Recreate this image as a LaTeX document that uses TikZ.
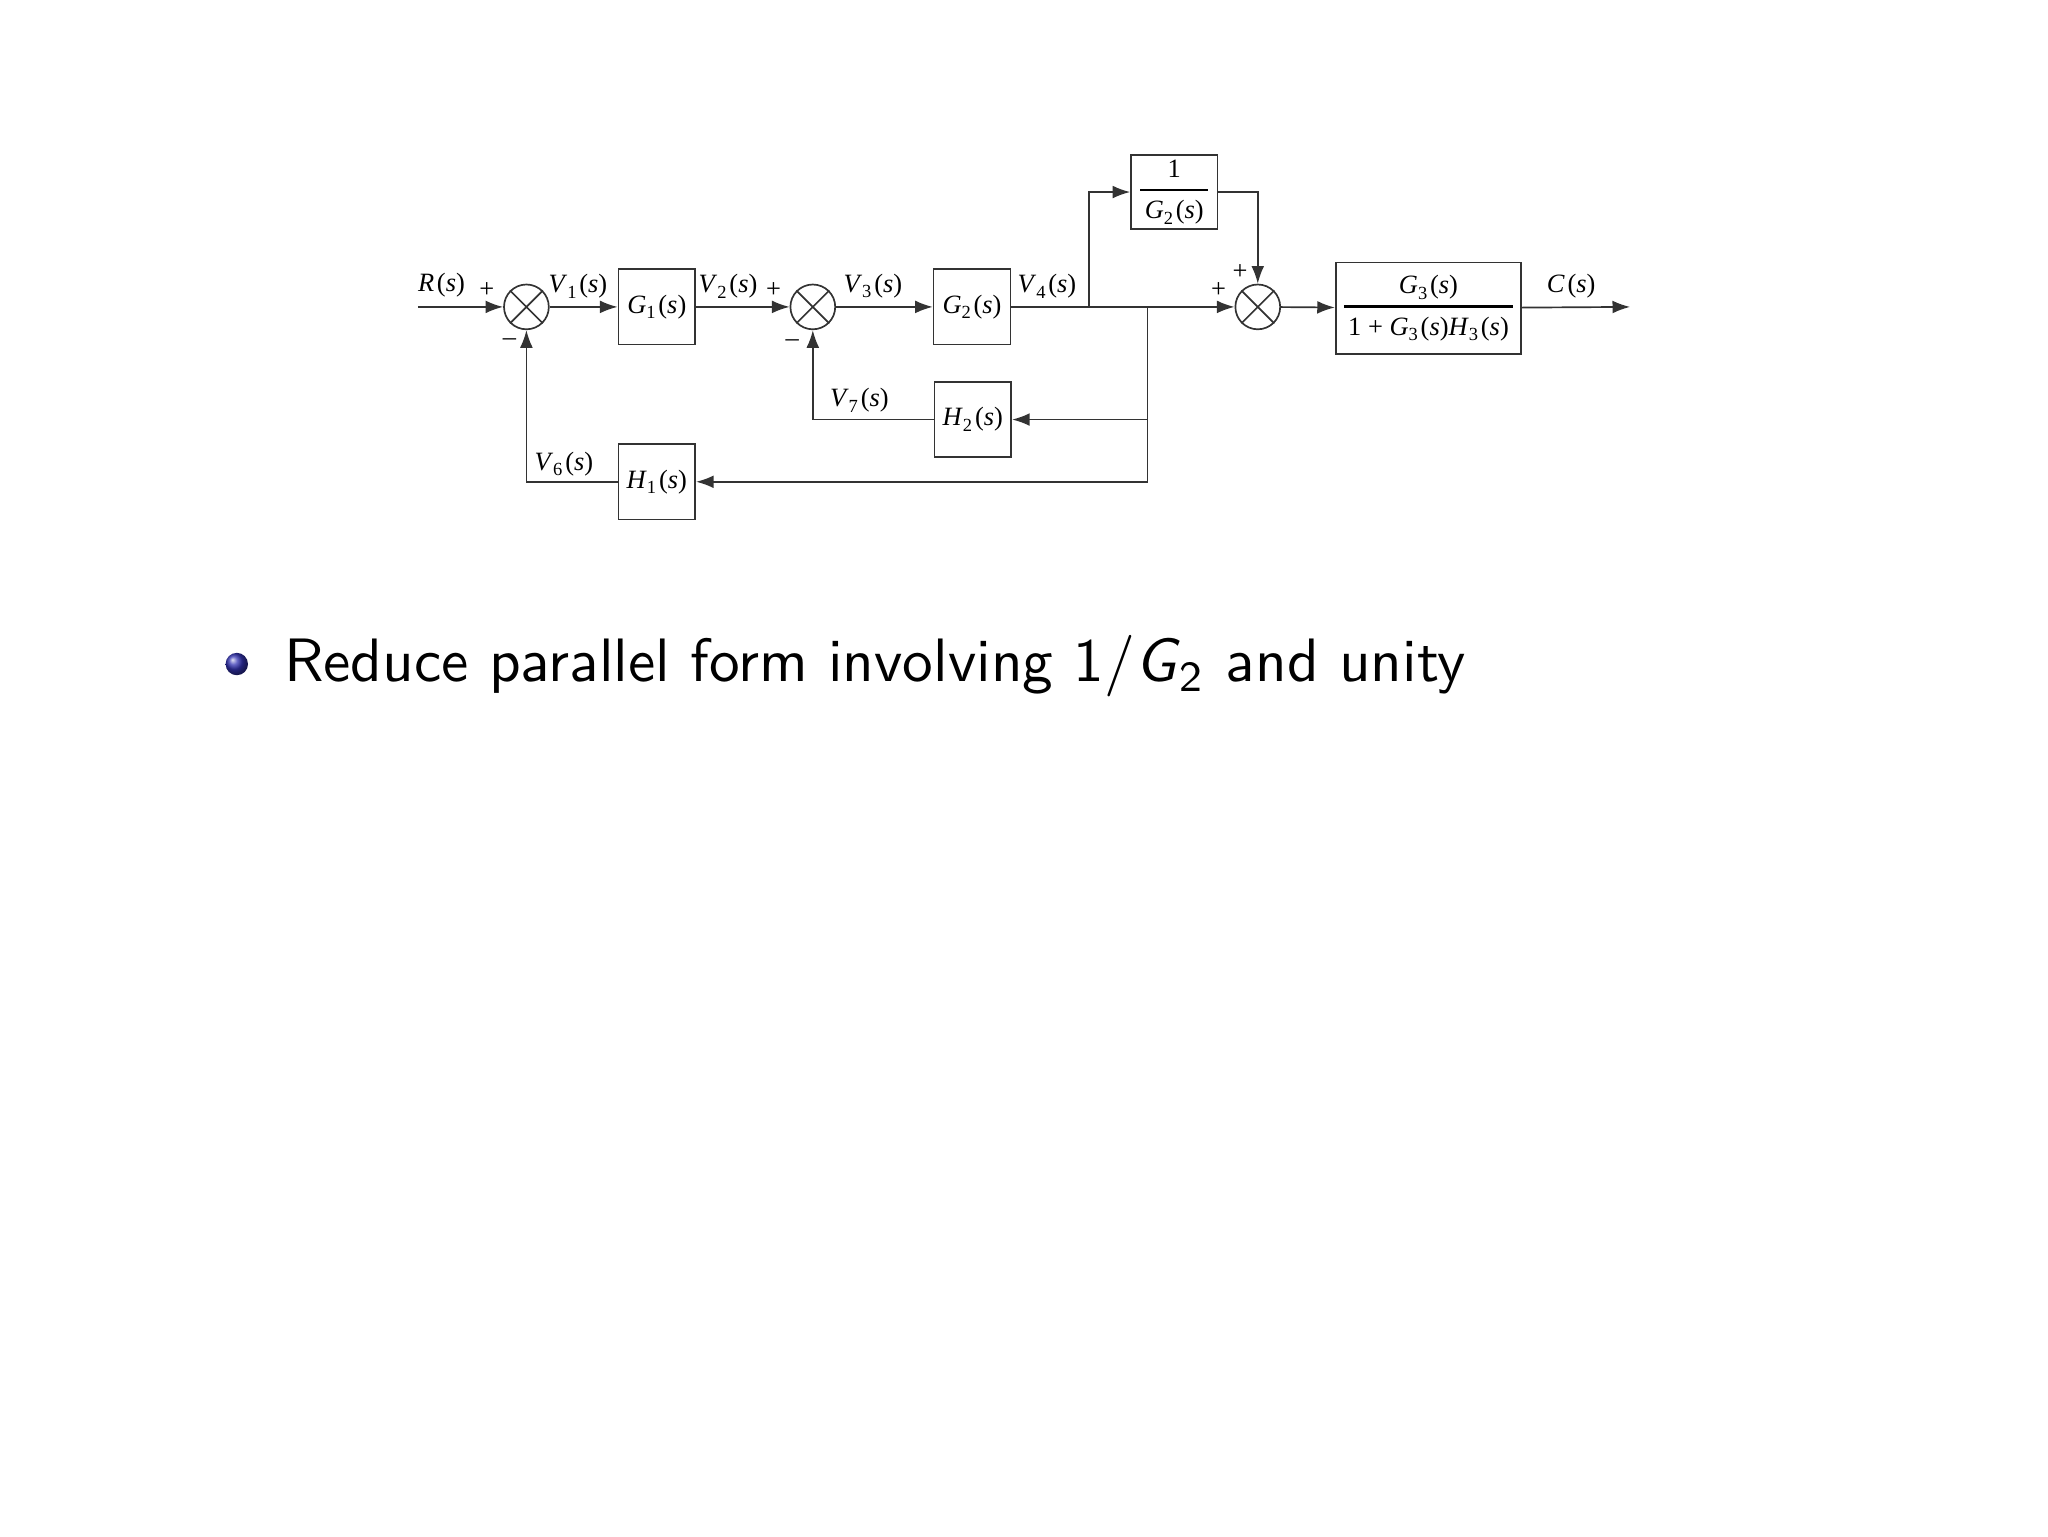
\documentclass[tikz,border=0pt]{standalone}
\usepackage{fontspec}
\setmainfont{Liberation Serif}
\usetikzlibrary{arrows.meta,positioning}
\definecolor{beamerblue}{rgb}{0.2,0.2,0.7}
\newcommand{\tfn}[2]{\textit{#1}\textsubscript{#2}(\textit{s})}
\newcommand{\blockfrac}[2]{$\frac{\mbox{#1}\rule[-1.7pt]{0pt}{0pt}}{\rule{0pt}{4.5pt}\mbox{\,#2\,}}$}
\begin{document}
\begin{tikzpicture} [font=\fontsize{4.7}{5.6}\selectfont, line width=0.3pt, draw=black!80,
    >={Latex[length=1.1mm,width=0.8mm]},
    block/.style={draw, minimum width=0.48cm, minimum height=0.47cm, inner sep=0.5pt},
    sumnode/.style={draw, circle, minimum size=0.28cm, inner sep=0pt},
    lab/.style={inner sep=0.5pt}]
    \useasboundingbox (0,0) rectangle (12.8,-9.6);
    % place nodes
    \coordinate (in) at (2.612,-1.918);
    \node [sumnode] (sum1) at (3.290,-1.918) {};
    \node [block] (G1) at (4.105,-1.918) {\tfn{G}{1}};
    \node [sumnode] (sum2) at (5.080,-1.918) {};
    \node [block] (G2) at (6.075,-1.918) {\tfn{G}{2}};
    \coordinate (split1) at (6.805,-1.918);
    \coordinate (split2) at (7.172,-1.918);
    \node [block, minimum width=0.54cm, minimum height=0.46cm, inner sep=0pt] (invG2) at (7.339,-1.200)
      {\blockfrac{1}{\tfn{G}{2}}};
    \node [sumnode] (sum3) at (7.861,-1.918) {};
    \node [block, minimum width=1.16cm, minimum height=0.57cm, inner sep=0pt] (G3) at (8.928,-1.926)
      {\blockfrac{\tfn{G}{3}}{1 + \tfn{G}{3}\tfn{H}{3}}};
    \coordinate (out) at (10.188,-1.918);
    \node [block] (H2) at (6.080,-2.622) {\tfn{H}{2}};
    \node [block] (H1) at (4.105,-3.011) {\tfn{H}{1}};
    % labels
    \node [lab] (Rlab) at (2.759,-1.785) {\tfn{R}{}};
    \node [lab] (plus1) at (3.043,-1.815) {+};
    \node [lab] (minus1) at (3.184,-2.139) {--};
    \node [lab] (V1lab) at (3.612,-1.788) {\tfn{V}{1}};
    \node [lab] (V2lab) at (4.550,-1.788) {\tfn{V}{2}};
    \node [lab] (plus2) at (4.835,-1.815) {+};
    \node [lab] (minus2) at (4.952,-2.143) {--};
    \node [lab] (V3lab) at (5.455,-1.788) {\tfn{V}{3}};
    \node [lab] (V4lab) at (6.543,-1.788) {\tfn{V}{4}};
    \node [lab] (plus3) at (7.616,-1.815) {+};
    \node [lab] (plus4) at (7.751,-1.700) {+};
    \node [lab] (Clab) at (9.820,-1.788) {\tfn{C}{}};
    \node [lab] (V7lab) at (5.371,-2.500) {\tfn{V}{7}};
    \node [lab] (V6lab) at (3.524,-2.900) {\tfn{V}{6}};
    % draw edges
    \foreach \s in {sum1,sum2,sum3}
      \draw (\s.north west) -- (\s.south east) (\s.north east) -- (\s.south west);
    \draw [->] (in) -- (sum1);
    \draw [->] (sum1) -- (G1);
    \draw [->] (G1) -- (sum2);
    \draw [->] (sum2) -- (G2);
    \draw [->] (G2) -- (sum3);
    \draw [->] (split1) |- (invG2);
    \draw [->] (invG2) -| (sum3);
    \draw [->] (sum3) -- (G3);
    \draw [->] (G3) -- (out);
    \draw [->] (split2) |- (H2);
    \draw [->] (split2) |- (H1);
    \draw [->] (H2) -| (sum2);
    \draw [->] (H1) -| (sum1);
    % bullet text
    \node [circle, ball color=beamerblue, minimum size=0.14cm, inner sep=0pt] (bullet) at (1.48,-4.15) {};
    \node [anchor=base west, inner sep=0pt, font=\sffamily\fontsize{10.9}{13}\selectfont] (item) at (1.77,-4.262)
      {Reduce parallel form involving 1$/$\textit{G}$_{\mathsf{2}}$ and unity};
  \end{tikzpicture}
\end{document}
